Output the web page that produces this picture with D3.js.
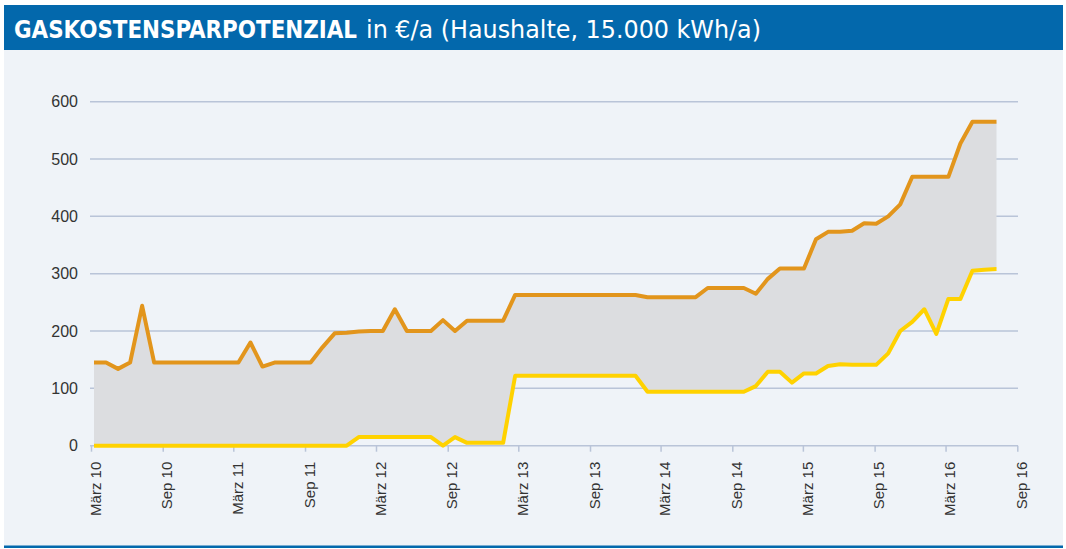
<!DOCTYPE html>
<html>
<head>
<meta charset="utf-8">
<script src="https://cdn.jsdelivr.net/npm/d3@7"></script>
<style>
  body { margin: 0; background: #ffffff; }
  text { font-family: "Liberation Sans", Arial, sans-serif; }
</style>
</head>
<body>
<div id="chart"></div>
<script>
{
  const width = 1066;
  const height = 549;

  // months of the data points (März 2010 .. Juni 2016)
  const months = [
    "2010-03", "2010-04", "2010-05", "2010-06", "2010-07", "2010-08", "2010-09", "2010-10", "2010-11", "2010-12",
    "2011-01", "2011-02", "2011-03", "2011-04", "2011-05", "2011-06", "2011-07", "2011-08", "2011-09", "2011-10", "2011-11", "2011-12",
    "2012-01", "2012-02", "2012-03", "2012-04", "2012-05", "2012-06", "2012-07", "2012-08", "2012-09", "2012-10", "2012-11", "2012-12",
    "2013-01", "2013-02", "2013-03", "2013-04", "2013-05", "2013-06", "2013-07", "2013-08", "2013-09", "2013-10", "2013-11", "2013-12",
    "2014-01", "2014-02", "2014-03", "2014-04", "2014-05", "2014-06", "2014-07", "2014-08", "2014-09", "2014-10", "2014-11", "2014-12",
    "2015-01", "2015-02", "2015-03", "2015-04", "2015-05", "2015-06", "2015-07", "2015-08", "2015-09", "2015-10", "2015-11", "2015-12",
    "2016-01", "2016-02", "2016-03", "2016-04", "2016-05", "2016-06"
  ];

  // upper bound of the saving potential (orange line)
  const maxSaving = [
    145, 145, 134, 145, 244, 145, 145, 145, 145, 145,
    145, 145, 145, 180, 138, 145, 145, 145, 145, 172, 196, 197,
    199, 200, 200, 238, 200, 200, 200, 219, 200, 218, 218, 218,
    218, 263, 263, 263, 263, 263, 263, 263, 263, 263, 263, 263,
    259, 259, 259, 259, 259, 275, 275, 275, 275, 265, 291, 309,
    309, 309, 360, 373, 373, 375, 388, 387, 400, 421, 469, 469,
    469, 469, 527, 565, 565, 565
  ];

  // lower bound of the saving potential (yellow line)
  const minSaving = [
    0, 0, 0, 0, 0, 0, 0, 0, 0, 0,
    0, 0, 0, 0, 0, 0, 0, 0, 0, 0, 0, 0,
    15, 15, 15, 15, 15, 15, 15, 0, 15, 5, 5, 5,
    5, 122, 122, 122, 122, 122, 122, 122, 122, 122, 122, 122,
    94, 94, 94, 94, 94, 94, 94, 94, 94, 104, 129, 129,
    110, 126, 126, 139, 142, 141, 141, 141, 161, 200, 216, 238,
    195, 256, 256, 305, 307, 308
  ];

  const yTicks = [0, 100, 200, 300, 400, 500, 600];
  // x tick dates + labels
  const xTickDates = [
    "2010-03", "2010-09", "2011-03", "2011-09", "2012-03", "2012-09", "2013-03",
    "2013-09", "2014-03", "2014-09", "2015-03", "2015-09", "2016-03", "2016-09"
  ];
  const xTickLabels = [
    "März 10", "Sep 10", "März 11", "Sep 11", "März 12", "Sep 12", "März 13",
    "Sep 13", "März 14", "Sep 14", "März 15", "Sep 15", "März 16", "Sep 16"
  ];

  const titleBold = "GASKOSTENSPARPOTENZIAL";
  const titleRest = "in €/a (Haushalte, 15.000 kWh/a)";

  const blue = "#0368ac";
  const gridColor = "#b9c4d8";
  const orange = "#e2951c";
  const yellow = "#ffd200";

  const parseMonth = d3.timeParse("%Y-%m");

  let svg = d3.select("#chart")
    .append("svg")
    .attr("width", width)
    .attr("height", height);

  // panel background + header bar + bottom rule
  svg.append("rect")
    .attr("x", 4).attr("y", 5)
    .attr("width", 1059).attr("height", 542)
    .attr("fill", "#eff3f8");
  svg.append("rect")
    .attr("x", 4).attr("y", 5)
    .attr("width", 1059).attr("height", 45)
    .attr("fill", blue);
  svg.append("rect")
    .attr("x", 4).attr("y", 545.5)
    .attr("width", 1059).attr("height", 2.5)
    .attr("fill", blue);

  svg.append("text")
    .attr("x", 14).attr("y", 38)
    .attr("fill", "#ffffff")
    .style("font-family", "'Liberation Sans Narrow', 'DejaVu Sans Condensed', sans-serif")
    .style("font-weight", "bold")
    .style("font-size", "24px")
    .attr("textLength", 343)
    .attr("lengthAdjust", "spacingAndGlyphs")
    .text(titleBold);
  svg.append("text")
    .attr("x", 366).attr("y", 38)
    .attr("fill", "#ffffff")
    .style("font-family", "'Liberation Sans Narrow', 'DejaVu Sans Condensed', sans-serif")
    .style("font-size", "24px")
    .attr("textLength", 395)
    .attr("lengthAdjust", "spacingAndGlyphs")
    .text(titleRest);

  // scales
  let y = d3.scaleLinear()
    .domain([0, 600])
    .range([445.7, 101.7]);

  let xAxisScale = d3.scaleTime()
    .domain([parseMonth(xTickDates[0]), parseMonth(xTickDates[xTickDates.length - 1])])
    .range([91, 1017.3]);

  let x = d3.scalePoint()
    .domain(months)
    .range([94, 996.5]);

  // gridlines
  let grid = svg.append("g").attr("id", "grid");
  grid.selectAll("line")
    .data(yTicks.slice(1))
    .enter()
    .append("line")
    .attr("x1", 90).attr("x2", 1018)
    .attr("y1", d => y(d)).attr("y2", d => y(d))
    .attr("stroke", gridColor)
    .attr("stroke-width", 1.5);

  // y labels
  svg.append("g")
    .selectAll("text")
    .data(yTicks)
    .enter()
    .append("text")
    .attr("x", 78)
    .attr("y", d => y(d))
    .attr("dy", "0.35em")
    .attr("text-anchor", "end")
    .attr("fill", "#333333")
    .style("font-size", "16px")
    .text(d => d);

  // band between lower and upper bound
  let points = months.map((m, i) => ({ m: m, lo: minSaving[i], hi: maxSaving[i] }));

  svg.append("path")
    .datum(points)
    .attr("fill", "#dcdde0")
    .attr("d", d3.area()
      .x(d => x(d.m))
      .y0(d => y(d.lo))
      .y1(d => y(d.hi)));

  // x axis
  let xAxis = d3.axisBottom(xAxisScale)
    .tickValues(xTickDates.map(parseMonth))
    .tickSize(6)
    .tickFormat((d, i) => xTickLabels[i]);

  let xAxisG = svg.append("g")
    .attr("transform", "translate(0," + y(0) + ")")
    .call(xAxis);

  xAxisG.select(".domain")
    .attr("d", "M90,0H1018")
    .attr("stroke", gridColor)
    .attr("stroke-width", 1.5);
  xAxisG.selectAll(".tick line")
    .attr("stroke", gridColor)
    .attr("stroke-width", 1.5);
  xAxisG.selectAll(".tick text")
    .attr("fill", "#333333")
    .style("font-size", "15px")
    .style("font-family", "'Liberation Sans', Arial, sans-serif")
    .attr("text-anchor", "end")
    .attr("transform", "rotate(-90)")
    .attr("x", -16)
    .attr("y", 4)
    .attr("dy", "0.35em");

  // bound lines
  svg.append("path")
    .datum(points)
    .attr("fill", "none")
    .attr("stroke", orange)
    .attr("stroke-width", 4)
    .attr("stroke-linejoin", "round")
    .attr("d", d3.line()
      .x(d => x(d.m))
      .y(d => y(d.hi)));

  svg.append("path")
    .datum(points)
    .attr("fill", "none")
    .attr("stroke", yellow)
    .attr("stroke-width", 4)
    .attr("stroke-linejoin", "round")
    .attr("d", d3.line()
      .x(d => x(d.m))
      .y(d => y(d.lo)));
}
</script>
</body>
</html>
